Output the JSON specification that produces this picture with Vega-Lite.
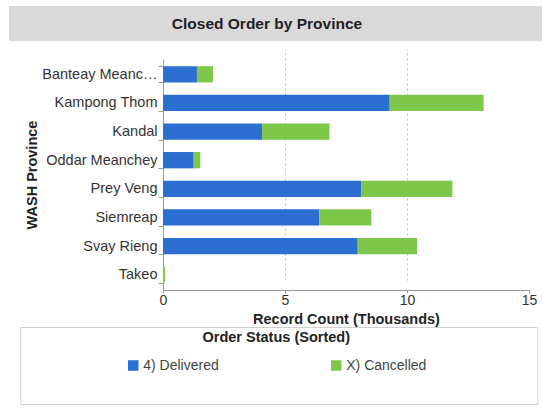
{
  "$schema": "https://vega.github.io/schema/vega-lite/v6.json",
  "padding": {"left": 9, "top": 6, "right": 0, "bottom": 0},
  "background": "white",
  "config": {"font": "Liberation Sans", "view": {"stroke": null}},
  "datasets": {
    "orders": [
      {"province": "Banteay Meanchey", "status": "4) Delivered", "records": 1.39},
      {"province": "Banteay Meanchey", "status": "X) Cancelled", "records": 0.66},
      {"province": "Kampong Thom", "status": "4) Delivered", "records": 9.29},
      {"province": "Kampong Thom", "status": "X) Cancelled", "records": 3.85},
      {"province": "Kandal", "status": "4) Delivered", "records": 4.06},
      {"province": "Kandal", "status": "X) Cancelled", "records": 2.76},
      {"province": "Oddar Meanchey", "status": "4) Delivered", "records": 1.26},
      {"province": "Oddar Meanchey", "status": "X) Cancelled", "records": 0.27},
      {"province": "Prey Veng", "status": "4) Delivered", "records": 8.12},
      {"province": "Prey Veng", "status": "X) Cancelled", "records": 3.74},
      {"province": "Siemreap", "status": "4) Delivered", "records": 6.40},
      {"province": "Siemreap", "status": "X) Cancelled", "records": 2.14},
      {"province": "Svay Rieng", "status": "4) Delivered", "records": 7.98},
      {"province": "Svay Rieng", "status": "X) Cancelled", "records": 2.43},
      {"province": "Takeo", "status": "4) Delivered", "records": 0},
      {"province": "Takeo", "status": "X) Cancelled", "records": 0.08}
    ]
  },
  "spacing": 0,
  "center": true,
  "resolve": {"scale": {"color": "independent"}},
  "vconcat": [
    {
      "width": 540,
      "height": 35,
      "view": {"fill": "#d9d9d9", "stroke": null},
      "data": {"values": [{"label": "Closed Order by Province"}]},
      "mark": {"type": "text", "fontWeight": "bold", "fontSize": 15.5, "color": "#222", "baseline": "middle", "dx": -12},
      "encoding": {"text": {"field": "label", "type": "nominal"}}
    },
    {
      "width": 540,
      "height": 241,
      "data": {"name": "orders"},
      "mark": {"type": "bar"},
      "encoding": {
        "y": {
          "field": "province", "type": "nominal", "title": "WASH Province",
          "scale": {"paddingInner": 0.43, "paddingOuter": 0.25, "range": [10, 241]},
          "axis": {"offset": -154, "tickBand": "extent", "tickSize": 5, "tickColor": "#9a9a9a", "domainColor": "#9a9a9a",
                   "labelFontSize": 14.5, "labelColor": "#333", "labelPadding": 1, "labelLimit": 121,
                   "titleFontSize": 14.5, "titleFontWeight": "bold", "titleColor": "#222", "titlePadding": 2, "grid": false}
        },
        "x": {
          "field": "records", "type": "quantitative", "stack": "zero", "title": "Record Count (Thousands)",
          "scale": {"domain": [0, 15], "nice": false, "range": [154, 520]},
          "axis": {"values": [0, 5, 10, 15], "tickSize": 3, "tickColor": "#9a9a9a", "domainColor": "#9a9a9a",
                   "labelFontSize": 14, "labelColor": "#333", "labelPadding": 0, "labelFlush": false,
                   "titleFontSize": 14.5, "titleFontWeight": "bold", "titleColor": "#222", "titlePadding": 5,
                   "grid": true, "gridDash": [2, 3],
                   "gridColor": {"condition": {"test": "datum.value == 0 || datum.value == 15", "value": "transparent"}, "value": "#c0c0c0"}}
        },
        "color": {
          "field": "status", "type": "nominal",
          "scale": {"domain": ["4) Delivered", "X) Cancelled"], "range": ["#2b6fd2", "#7dc84a"]},
          "legend": null
        }
      }
    },
    {
      "width": 517,
      "height": 77,
      "view": {"stroke": "#d0d0d0", "fill": "white"},
      "data": {"name": "orders"},
      "mark": {"type": "square", "opacity": 0},
      "encoding": {
        "color": {
          "field": "status", "type": "nominal", "title": "Order Status (Sorted)",
          "scale": {"domain": ["4) Delivered", "X) Cancelled"], "range": ["#2b6fd2", "#7dc84a"]},
          "legend": {"orient": "none", "legendX": 106, "legendY": 4, "padding": 0, "direction": "horizontal", "columns": 2,
                     "columnPadding": 110, "titleAnchor": "middle", "titleFontSize": 14.5, "titleFontWeight": "bold",
                     "titleColor": "#222", "titlePadding": 13, "symbolType": "square", "symbolSize": 110,
                     "symbolOpacity": 1, "symbolStrokeWidth": 0, "labelFontSize": 14, "labelColor": "#444", "labelOffset": 3}
        }
      }
    }
  ]
}
